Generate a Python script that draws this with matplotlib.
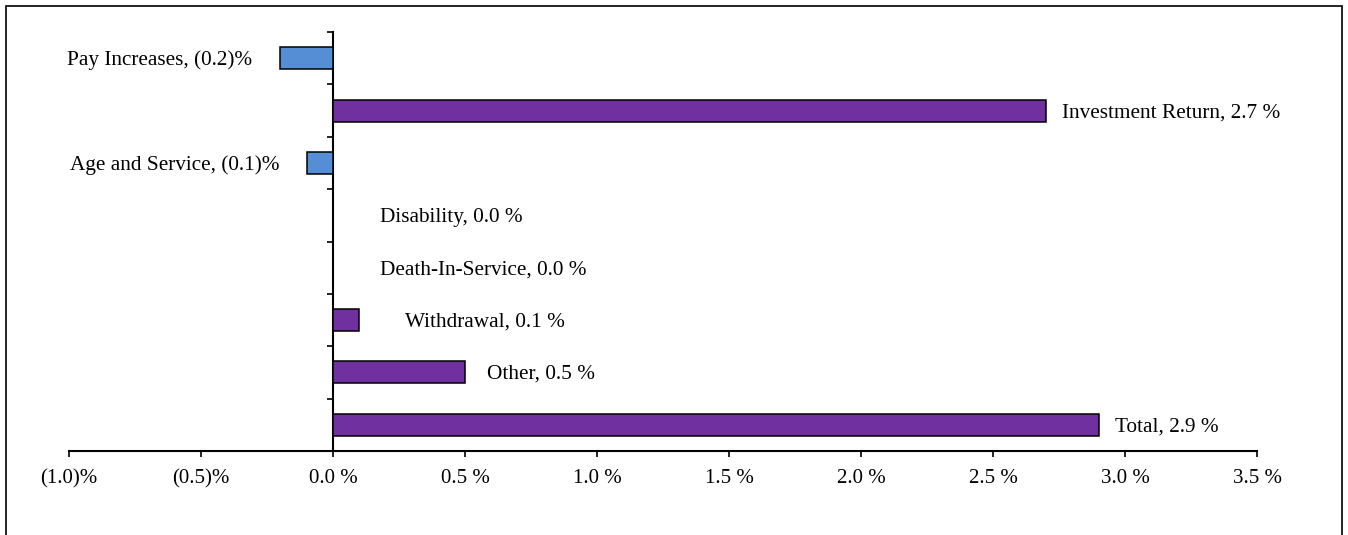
import matplotlib.pyplot as plt
from matplotlib.patches import Rectangle

# categories and values (percent)
categories = ["Pay Increases", "Investment Return", "Age and Service", "Disability",
              "Death-In-Service", "Withdrawal", "Other", "Total"]
values = [-0.2, 2.7, -0.1, 0.0, 0.0, 0.1, 0.5, 2.9]
bar_labels = ["Pay Increases, (0.2)%", "Investment Return, 2.7 %", "Age and Service, (0.1)%",
              "Disability, 0.0 %", "Death-In-Service, 0.0 %", "Withdrawal, 0.1 %",
              "Other, 0.5 %", "Total, 2.9 %"]
xticks = [-1.0, -0.5, 0.0, 0.5, 1.0, 1.5, 2.0, 2.5, 3.0, 3.5]
xtick_labels = ["(1.0)%", "(0.5)%", "0.0 %", "0.5 %", "1.0 %", "1.5 %",
                "2.0 %", "2.5 %", "3.0 %", "3.5 %"]

# label gap from bar end, in pixels (Excel placed them unevenly)
gaps = [28, 16, 27, 47, 47, 46, 22, 16]

plt.rcParams['font.family'] = ['Liberation Serif', 'DejaVu Serif']

fig = plt.figure(figsize=(13.48, 5.35), dpi=100)
ax = fig.add_axes([0.0512, 0.157, 0.8813, 0.783])

colors = ["#558ED5" if v < 0 else "#7030A0" for v in values]
ypos = list(range(len(categories)))
ax.barh(ypos, values, height=0.42, color=colors, edgecolor="black", linewidth=1.1, zorder=3)

for y, v, lab, g in zip(ypos, values, bar_labels, gaps):
    if v < 0:
        ax.annotate(lab, (v, y), xytext=(-g * 0.72, -1.5), textcoords="offset points",
                    ha="right", va="center", fontsize=15.3)
    else:
        ax.annotate(lab, (v, y), xytext=(g * 0.72, -1.5), textcoords="offset points",
                    ha="left", va="center", fontsize=15.3)

ax.set_xlim(-1.0, 3.5)
ax.set_ylim(len(categories) - 0.5, -0.5)
ax.set_xticks(xticks)
ax.set_xticklabels(xtick_labels, fontsize=15)
ax.tick_params(axis="x", direction="out", length=4, width=1.2, pad=9)

ax.set_yticks([i - 0.5 for i in range(len(categories) + 1)])
ax.set_yticklabels([])
ax.tick_params(axis="y", direction="out", length=4, width=1.2)

ax.spines["left"].set_position(("data", 0))
ax.spines["left"].set_linewidth(1.5)
ax.spines["bottom"].set_linewidth(1.5)
ax.spines["top"].set_visible(False)
ax.spines["right"].set_visible(False)

# outer chart border (bottom edge falls outside the picture)
fig.patches.append(Rectangle((6 / 1348, -0.2), 1336 / 1348, 1.2 - 6 / 535,
                             transform=fig.transFigure, fill=False,
                             edgecolor="black", linewidth=1.2))

fig.savefig("out.png", dpi=100)
